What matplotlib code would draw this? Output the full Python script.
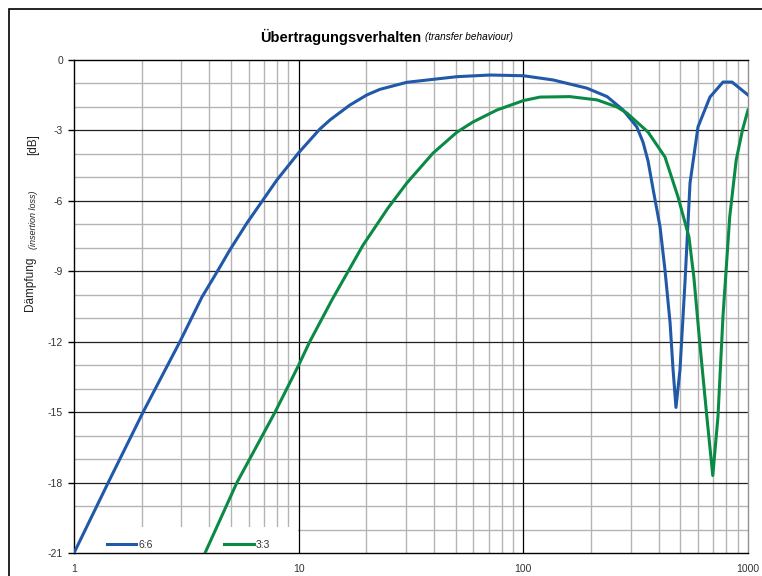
import numpy as np
import matplotlib
matplotlib.use('Agg')
from matplotlib import pyplot as plt
from matplotlib.patches import Rectangle
from matplotlib.ticker import FixedLocator

plt.rcParams['font.family'] = ['Liberation Sans Narrow', 'Liberation Sans', 'DejaVu Sans']

# 6:6 curve (frequency, attenuation in dB)
freq_66 = [1, 1.42, 2.03, 2.96, 3.71, 4.33, 4.94, 5.89, 6.94, 8.0, 10, 12.4, 13.8, 16.9,
           20.1, 23, 30.3, 50.7, 71, 100, 135.6, 192, 236, 278, 320, 341, 359, 378, 406, 427,
           450, 464, 478, 498, 524, 552, 599, 677, 774, 849, 1000]
db_66 = [-21, -18, -15, -12, -10.1, -9.03, -8.09, -6.94, -5.96, -5.11, -3.95, -2.95, -2.55, -1.92,
         -1.49, -1.25, -0.95, -0.71, -0.64, -0.67, -0.85, -1.2, -1.56, -2.13, -2.85, -3.5, -4.3, -5.5, -7.11, -8.94,
         -11.2, -13.2, -14.8, -13.2, -9.5, -5.24, -2.85, -1.58, -0.94, -0.94, -1.49]

# 3:3 curve
freq_33 = [3.83, 5.31, 7.85, 10, 11.2, 14.1, 19.3, 25, 30.3, 39.6, 50.7, 59.7, 76.3, 100,
           118.6, 161, 213, 261, 289, 359, 427, 488, 546, 574, 610, 656, 697, 735, 774,
           829, 886, 945, 1000]
db_33 = [-21, -18, -15, -13, -12, -10.2, -7.9, -6.3, -5.24, -3.97, -3.07, -2.64, -2.13, -1.73,
         -1.58, -1.56, -1.70, -2.0, -2.26, -3.07, -4.13, -5.83, -7.54, -9.24, -12.05, -15.2, -17.7, -15.2, -10.9,
         -6.69, -4.26, -2.98, -2.13]

yticks = [0, -3, -6, -9, -12, -15, -18, -21]
xticks = [1, 10, 100, 1000]

fig = plt.figure(figsize=(7.62, 5.76), dpi=100)
W, H = 762, 576

# outer frame
fig.patches.append(Rectangle((9 / W, -0.1), 1.2, (H - 9) / H + 0.1, transform=fig.transFigure,
                             fill=False, edgecolor='black', linewidth=1.2))

ax = fig.add_axes([74 / W, 1 - 553 / H, (748 - 74) / W, (553 - 60) / H])
ax.set_xscale('log')
ax.set_xlim(1, 1000)
ax.set_ylim(-21, 0)

# grid
minor_x = [m * 10 ** d for d in range(3) for m in range(2, 10)]
for xv in minor_x:
    ax.axvline(xv, color='#b4b4b4', lw=1.0, zorder=1)
for yv in range(-20, 0):
    if yv % 3 != 0:
        ax.axhline(yv, color='#b4b4b4', lw=1.0, zorder=1)
for xv in xticks[1:-1]:
    ax.axvline(xv, color='black', lw=0.9, zorder=1.2)
for yv in yticks[1:-1]:
    ax.axhline(yv, color='#202020', lw=0.9, zorder=1.2)

# white legend background (curves drawn on top)
ax.add_patch(Rectangle((0, 0), (298 - 74) / (748 - 74), 26 / (553 - 60), transform=ax.transAxes,
                       facecolor='white', edgecolor='none', zorder=1.5))

ax.plot(freq_66, db_66, color='#2158a8', lw=2.2, label='6:6', zorder=3, solid_joinstyle='round')
ax.plot(freq_33, db_33, color='#0a8a45', lw=2.2, label='3:3', zorder=3, solid_joinstyle='round')

ax.xaxis.set_major_locator(FixedLocator(xticks))
ax.xaxis.set_minor_locator(FixedLocator([]))
ax.set_xticklabels([str(v) for v in xticks])
ax.set_yticks(yticks)
ax.set_yticklabels([str(v) for v in yticks])
ax.tick_params(axis='y', direction='out', length=4, width=1, labelsize=7.5, colors='black',
               labelcolor='#333333', pad=4)
ax.tick_params(axis='x', length=0, labelsize=7.5, labelcolor='#333333', pad=8)

for side in ['left', 'bottom', 'top']:
    ax.spines[side].set_color('black')
    ax.spines[side].set_linewidth(1.0)
ax.spines['right'].set_color('#909090')
ax.spines['right'].set_linewidth(1.0)

leg = ax.legend(loc='lower left', bbox_to_anchor=(0.035, -0.012), ncol=2, frameon=False,
                fontsize=7.5, handlelength=2.8, handletextpad=0.2, columnspacing=6.9,
                labelcolor='#333333')

# title
fig.text(421 / W, 1 - 37 / H, 'Übertragungsverhalten', ha='right', va='center',
         fontsize=10.5, fontweight='bold', family=['Liberation Sans', 'DejaVu Sans'])
fig.text(425 / W, 1 - 37 / H, '(transfer behaviour)', ha='left', va='center',
         fontsize=7.2, style='italic', family=['Liberation Sans', 'DejaVu Sans'])

# y label pieces
fig.text(30 / W, 1 - 284 / H, 'Dämpfung', rotation=90, ha='center', va='center', fontsize=8.5,
         color='#222222')
fig.text(33 / W, 1 - 220 / H, '(insertion loss)', rotation=90, ha='center', va='center',
         fontsize=6.5, style='italic', color='#222222', family=['Liberation Sans', 'DejaVu Sans'])
fig.text(33 / W, 1 - 145 / H, '[dB]', rotation=90, ha='center', va='center', fontsize=8.5,
         color='#222222')

fig.savefig('out.png', dpi=100)
